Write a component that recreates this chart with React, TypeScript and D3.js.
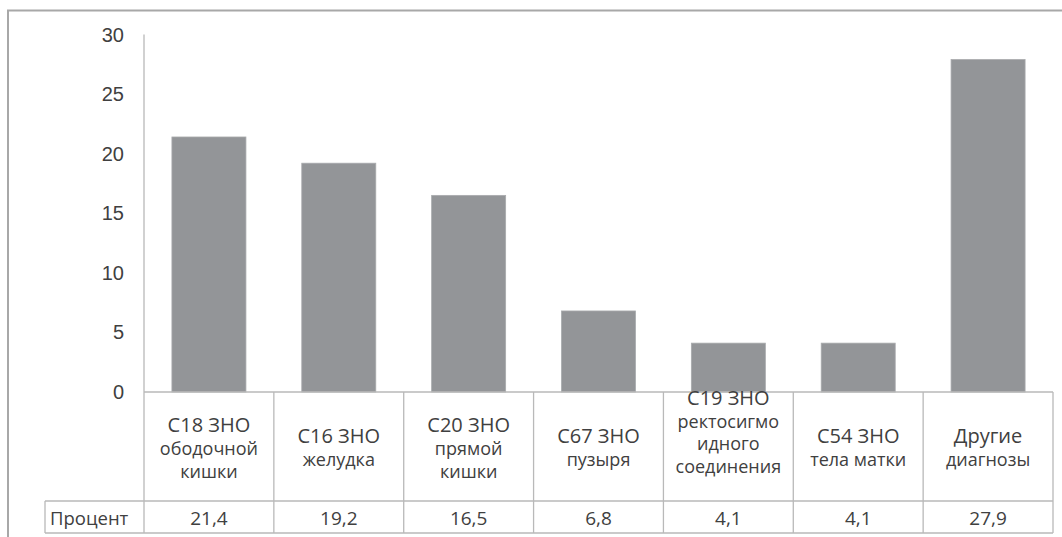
import * as d3 from "d3";

const categories = ["C18", "C16", "C20", "C67", "C19", "C54", "other"];
const labelLines = [
  ["С18 ЗНО", "ободочной", "кишки"],
  ["С16 ЗНО", "желудка"],
  ["С20 ЗНО", "прямой", "кишки"],
  ["С67 ЗНО", "пузыря"],
  ["С19 ЗНО", "ректосигмо", "идного", "соединения"],
  ["С54 ЗНО", "тела  матки"],
  ["Другие", "диагнозы"],
];
const values = [21.4, 19.2, 16.5, 6.8, 4.1, 4.1, 27.9];
const valueLabels = ["21,4", "19,2", "16,5", "6,8", "4,1", "4,1", "27,9"];
const yTicks = [0, 5, 10, 15, 20, 25, 30];
const seriesName = "Процент";

const W = 1062;
const H = 537;
const left = 144;
const right = 1053;
const top = 34.5;
const zeroY = 392;
const rowSplit = 501;
const tableBottom = 533;
const nameLeft = 45;

const lineColor = "#b9b9b9";
const textColor = "#404040";
const tableFont = "'Open Sans', sans-serif";

export default function App() {
  const x = d3.scaleBand<string>().domain(categories).range([left, right]).paddingInner(0).paddingOuter(0);
  const y = d3.scaleLinear().domain([0, 30]).range([zeroY, top]);
  const bw = x.bandwidth();
  const barW = bw * 0.57;
  const lh = 23;
  const cy = (zeroY + rowSplit) / 2;

  return (
    <svg
      width={W}
      height={H}
      style={{ position: "absolute", left: 0, top: 0, background: "#fff" }}
    >
      {/* outer frame */}
      <path d={`M8,${H} V10.5 H${W}`} fill="none" stroke="#a8a8a8" strokeWidth={2} />

      {/* y axis */}
      <line x1={left} x2={left} y1={top} y2={tableBottom} stroke={lineColor} strokeWidth={1.3} />
      {yTicks.map((t) => (
        <text
          key={t}
          x={124}
          y={y(t)}
          dy="0.35em"
          textAnchor="end"
          fontFamily="'Liberation Sans', Arial, sans-serif"
          fontSize={20}
          fill={textColor}
        >
          {t}
        </text>
      ))}

      {/* bars */}
      {categories.map((c, i) => (
        <rect
          key={c}
          x={x(c)! + (bw - barW) / 2}
          y={y(values[i])}
          width={barW}
          height={zeroY - y(values[i])}
          fill="#939598"
          stroke="#a9abad"
          strokeWidth={0.8}
        />
      ))}

      {/* data table grid */}
      <line x1={left} x2={right} y1={zeroY} y2={zeroY} stroke={lineColor} strokeWidth={1.3} />
      <line x1={nameLeft} x2={right} y1={rowSplit} y2={rowSplit} stroke={lineColor} strokeWidth={1.3} />
      <line x1={nameLeft} x2={right} y1={tableBottom} y2={tableBottom} stroke={lineColor} strokeWidth={1.3} />
      <line x1={nameLeft} x2={nameLeft} y1={rowSplit} y2={tableBottom} stroke={lineColor} strokeWidth={1.3} />
      {categories.map((c) => (
        <line
          key={c}
          x1={x(c)! + bw}
          x2={x(c)! + bw}
          y1={zeroY}
          y2={tableBottom}
          stroke={lineColor}
          strokeWidth={1.3}
        />
      ))}

      {/* category labels */}
      {categories.map((c, i) => {
        const lines = labelLines[i];
        const n = lines.length;
        const first = n >= 4 ? zeroY + 13 : cy + 8 - ((n - 1) / 2) * lh;
        const step = n >= 4 ? 22.5 : lh;
        return (
          <text
            key={c}
            textAnchor="middle"
            fontFamily={tableFont}
            fontSize={18}
            fill={textColor}
          >
            {lines.map((l, j) => (
              <tspan key={j} x={x(c)! + bw / 2} y={first + j * step} fontSize={j === 0 ? 20 : 18}>
                {l}
              </tspan>
            ))}
          </text>
        );
      })}

      {/* values row */}
      <text x={nameLeft + 5} y={525} fontFamily={tableFont} fontSize={18.5} fill={textColor}>
        {seriesName}
      </text>
      {categories.map((c, i) => (
        <text
          key={c}
          x={x(c)! + bw / 2}
          y={525}
          textAnchor="middle"
          fontFamily={tableFont}
          fontSize={19}
          fill={textColor}
        >
          {valueLabels[i]}
        </text>
      ))}
    </svg>
  );
}
